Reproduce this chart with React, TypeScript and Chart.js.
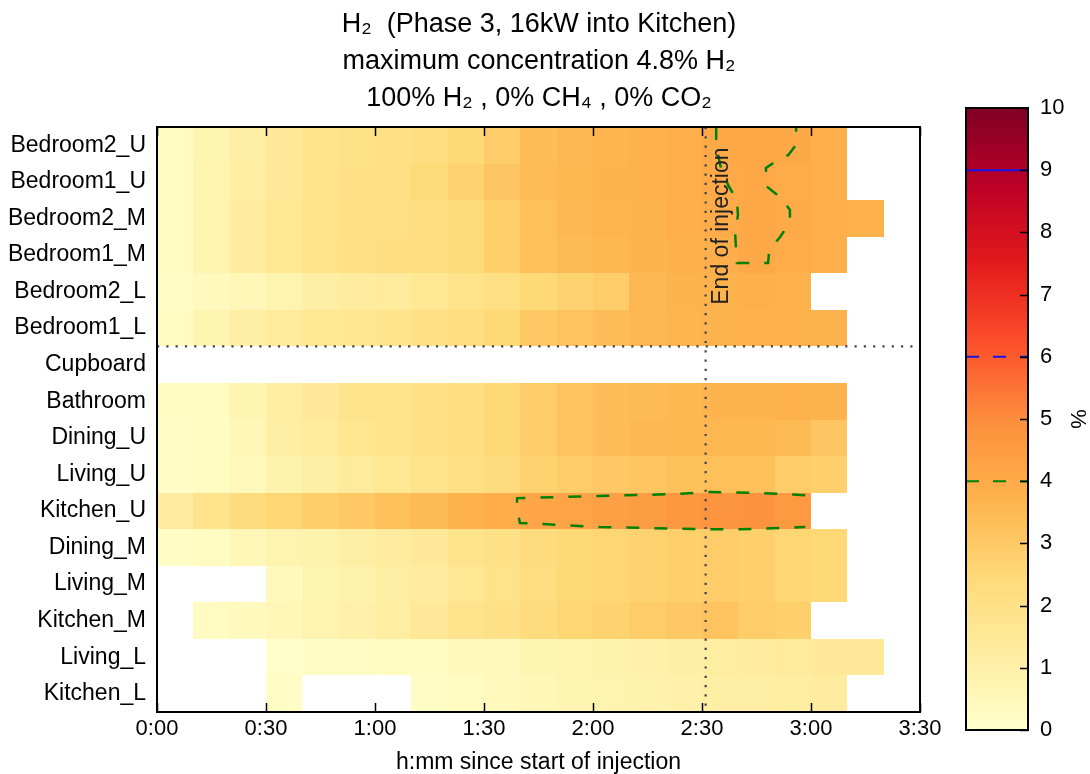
import React, { useEffect, useRef } from 'react';
import { Chart, registerables } from 'chart.js';

Chart.register(...registerables);

const SANS = "'Liberation Sans', Arial, 'DejaVu Sans', sans-serif";

// ---------- text ----------
const titleLines = [
  'H₂  (Phase 3, 16kW into Kitchen)',
  'maximum concentration 4.8% H₂',
  '100% H₂ , 0% CH₄ , 0% CO₂',
];
const xAxisTitle = 'h:mm since start of injection';
const colorbarTitle = '%';
const injectionLabel = 'End of injection';

// ---------- categories ----------
const rowLabels = [
  'Bedroom2_U', 'Bedroom1_U', 'Bedroom2_M', 'Bedroom1_M', 'Bedroom2_L', 'Bedroom1_L',
  'Cupboard', 'Bathroom', 'Dining_U', 'Living_U', 'Kitchen_U', 'Dining_M',
  'Living_M', 'Kitchen_M', 'Living_L', 'Kitchen_L',
];

// time bins (minutes since start of injection), each 10 minutes wide
const binStarts = [0, 10, 20, 30, 40, 50, 60, 70, 80, 90, 100, 110, 120, 130, 140, 150, 160, 170, 180, 190];
const binWidth = 10;

// ---------- concentration (% H2) per sensor, one value per time bin ----------
const bedroom2U = [0.3, 0.7, 1.1, 1.5, 1.8, 1.95, 2.05, 2.2, 2.5, 2.9, 3.4, 3.55, 3.65, 3.75, 3.85, 4.05, 4.1, 4.05, 3.85, null];
const bedroom1U = [0.3, 0.8, 1.2, 1.5, 1.8, 2.0, 2.1, 2.4, 2.7, 3.1, 3.45, 3.6, 3.7, 3.75, 3.85, 4.02, 4.08, 3.97, 3.85, null];
const bedroom2M = [0.3, 0.8, 1.3, 1.6, 1.9, 2.0, 2.1, 2.2, 2.4, 2.8, 3.3, 3.55, 3.65, 3.7, 3.85, 3.97, 4.1, 4.02, 3.9, 3.75];
const bedroom1M = [0.3, 0.8, 1.3, 1.6, 1.9, 2.05, 2.2, 2.2, 2.4, 2.8, 3.3, 3.5, 3.6, 3.7, 3.8, 3.9, 4.06, 3.95, 3.85, null];
const bedroom2L = [0.2, 0.4, 0.6, 0.8, 1.1, 1.3, 1.4, 1.6, 1.9, 2.1, 2.5, 2.7, 2.9, 3.55, 3.7, 3.75, 3.8, 3.75, null, null];
const bedroom1L = [0.3, 0.7, 1.1, 1.4, 1.6, 1.7, 1.8, 2.0, 2.2, 2.5, 3.0, 3.2, 3.4, 3.55, 3.65, 3.7, 3.75, 3.75, 3.7, null];
const cupboard = [null, null, null, null, null, null, null, null, null, null, null, null, null, null, null, null, null, null, null, null];
const bathroom = [0.3, 0.3, 0.7, 1.2, 1.5, 1.8, 1.9, 2.0, 2.2, 2.5, 2.9, 3.2, 3.4, 3.5, 3.6, 3.7, 3.7, 3.75, 3.7, null];
const diningU = [0.2, 0.3, 0.6, 1.1, 1.4, 1.7, 1.9, 2.0, 2.2, 2.5, 2.9, 3.2, 3.4, 3.55, 3.6, 3.6, 3.6, 3.5, 3.1, null];
const livingU = [0.2, 0.3, 0.5, 0.9, 1.1, 1.4, 1.6, 1.9, 2.1, 2.3, 2.7, 2.9, 3.05, 3.15, 3.25, 3.3, 3.3, 2.9, 2.8, null];
const kitchenU = [1.3, 1.8, 2.3, 2.6, 2.85, 3.0, 3.3, 3.5, 3.75, 3.92, 4.15, 4.25, 4.4, 4.45, 4.65, 4.75, 4.8, 4.6, null, null];
const diningM = [0.2, 0.3, 0.6, 0.8, 0.9, 1.1, 1.3, 1.5, 1.8, 2.0, 2.3, 2.5, 2.6, 2.7, 2.8, 2.9, 2.8, 2.6, 2.5, null];
const livingM = [null, null, null, 0.4, 0.7, 0.9, 1.1, 1.3, 1.6, 1.9, 2.2, 2.5, 2.6, 2.7, 2.8, 2.9, 2.8, 2.6, 2.5, null];
const kitchenM = [null, 0.3, 0.4, 0.6, 0.8, 1.0, 1.2, 1.5, 1.8, 2.0, 2.3, 2.6, 2.7, 2.9, 3.0, 3.2, 2.9, 2.8, null, null];
const livingL = [null, null, null, 0.1, 0.2, 0.2, 0.3, 0.3, 0.4, 0.5, 0.7, 0.8, 0.9, 1.0, 1.1, 1.2, 1.3, 1.4, 1.5, 1.5];
const kitchenL = [null, null, null, 0.2, null, null, null, 0.2, 0.3, 0.4, 0.6, 0.7, 0.8, 0.9, 1.0, 1.1, 1.1, 1.2, 1.3, null];

const heatRows = [
  bedroom2U, bedroom1U, bedroom2M, bedroom1M, bedroom2L, bedroom1L,
  cupboard, bathroom, diningU, livingU, kitchenU, diningM,
  livingM, kitchenM, livingL, kitchenL,
];

// ---------- 4 % contour lines (minutes, row position) ----------
const contourBedroomX = [153.9, 153.9, 155.0, 157.2, 159.6, 159.9, 159.1, 159.6, 168.2, 168.5, 171.5, 174.2, 174.2, 171.8, 167.6, 167.6, 170.9, 173.7, 175.9, 175.9];
const contourBedroomY = [-0.5, -0.01, 0.54, 1.09, 1.5, 1.91, 2.37, 3.22, 3.22, 2.86, 2.51, 2.1, 1.77, 1.44, 1.11, 0.62, 0.4, 0.27, -0.01, -0.5];
const contourKitchenX = [178.4, 166.0, 152.2, 143.1, 121.9, 110.9, 99.1, 99.1, 99.9, 121.9, 149.5, 160.5, 171.5, 178.4];
const contourKitchenY = [9.57, 9.51, 9.48, 9.54, 9.59, 9.62, 9.65, 9.98, 10.33, 10.44, 10.5, 10.5, 10.47, 10.44];

// ---------- reference lines ----------
const injectionEnd = 151; // minutes
const sectionBoundary = 5.5; // between Bedroom1_L and Cupboard

// ---------- axes ----------
const xMin = 0;
const xMax = 210;
const xTickValues = [0, 30, 60, 90, 120, 150, 180, 210];
const xTickLabels = ['0:00', '0:30', '1:00', '1:30', '2:00', '2:30', '3:00', '3:30'];

// ---------- colour scale ----------
const colorMin = 0;
const colorMax = 10;
const colorbarTicks = [0, 1, 2, 3, 4, 5, 6, 7, 8, 9, 10];
const ylOrRd = ['#ffffcc', '#ffeda0', '#fed976', '#feb24c', '#fd8d3c', '#fc4e2a', '#e31a1c', '#bd0026', '#800026'];
const thresholdLevels = [4, 6, 9];
const thresholdColors = ['rgb(0,128,0)', 'rgb(20,20,230)', 'rgb(20,20,230)'];
const thresholdDashed = [true, true, false];

const GREEN = 'rgb(0,128,0)';
const DOT = '#444444';

function hexToRgb(h: string) {
  const n = parseInt(h.slice(1), 16);
  return [(n >> 16) & 255, (n >> 8) & 255, n & 255];
}
const cmapRgb = ylOrRd.map(hexToRgb);

function colorFor(v: number) {
  const n = cmapRgb.length;
  let t = (v - colorMin) / (colorMax - colorMin);
  t = Math.max(0, Math.min(1, t)) * (n - 1);
  const i = Math.min(Math.floor(t), n - 2);
  const f = t - i;
  const a = cmapRgb[i];
  const b = cmapRgb[i + 1];
  const c = a.map((av, k) => Math.round(av + (b[k] - av) * f));
  return `rgb(${c[0]},${c[1]},${c[2]})`;
}

const heatmapPlugin = {
  id: 'heatmapCells',
  beforeDatasetsDraw(chart: any) {
    const { ctx, scales } = chart;
    const xs = scales.x;
    const ys = scales.y;
    ctx.save();
    heatRows.forEach((row, i) => {
      row.forEach((v, j) => {
        if (v === null || v === undefined) return;
        const xa = Math.round(xs.getPixelForValue(binStarts[j]));
        const xb = Math.round(xs.getPixelForValue(binStarts[j] + binWidth));
        const ya = Math.round(ys.getPixelForValue(i - 0.5));
        const yb = Math.round(ys.getPixelForValue(i + 0.5));
        ctx.fillStyle = colorFor(v as number);
        ctx.fillRect(Math.min(xa, xb), Math.min(ya, yb), Math.abs(xb - xa), Math.abs(yb - ya));
      });
    });
    ctx.restore();
  },
};

const mainFramePlugin = {
  id: 'mainFrame',
  afterDatasetsDraw(chart: any) {
    const { ctx, chartArea, scales } = chart;
    const { left, right, top, bottom } = chartArea;
    ctx.save();
    // end-of-injection label
    ctx.fillStyle = '#222';
    ctx.font = `23px ${SANS}`;
    ctx.textAlign = 'center';
    ctx.textBaseline = 'middle';
    ctx.translate(scales.x.getPixelForValue(injectionEnd) + 16, scales.y.getPixelForValue(2.21));
    ctx.rotate(-Math.PI / 2);
    ctx.fillText(injectionLabel, 0, 0);
    ctx.restore();

    ctx.save();
    ctx.strokeStyle = '#000';
    ctx.lineWidth = 1.5;
    ctx.beginPath();
    xTickValues.forEach((v) => {
      const px = Math.round(scales.x.getPixelForValue(v)) + 0.5;
      ctx.moveTo(px, bottom);
      ctx.lineTo(px, bottom - 9);
      ctx.moveTo(px, top);
      ctx.lineTo(px, top + 9);
    });
    ctx.stroke();
    ctx.lineWidth = 2;
    ctx.strokeRect(left, top, right - left, bottom - top);
    ctx.restore();
  },
};

const colorbarPlugin = {
  id: 'colorbarFill',
  beforeDatasetsDraw(chart: any) {
    const { ctx, chartArea, scales } = chart;
    const ys = scales.y;
    const y0 = ys.getPixelForValue(colorMin);
    const y1 = ys.getPixelForValue(colorMax);
    const g = ctx.createLinearGradient(0, y0, 0, y1);
    ylOrRd.forEach((c, i) => g.addColorStop(i / (ylOrRd.length - 1), c));
    ctx.save();
    ctx.fillStyle = g;
    ctx.fillRect(chartArea.left, chartArea.top, chartArea.right - chartArea.left, chartArea.bottom - chartArea.top);
    ctx.restore();
  },
  afterDatasetsDraw(chart: any) {
    const { ctx, chartArea, scales } = chart;
    const { left, right, top, bottom } = chartArea;
    ctx.save();
    ctx.strokeStyle = '#000';
    ctx.lineWidth = 1.5;
    ctx.beginPath();
    colorbarTicks.forEach((v) => {
      const py = Math.round(scales.y.getPixelForValue(v)) + 0.5;
      ctx.moveTo(right, py);
      ctx.lineTo(right - 8, py);
    });
    ctx.stroke();
    ctx.lineWidth = 2;
    ctx.strokeRect(left, top, right - left, bottom - top);
    ctx.restore();
  },
};

function dottedLine(label: string, data: { x: number; y: number }[]) {
  return {
    label,
    data,
    showLine: true,
    pointRadius: 0,
    borderColor: DOT,
    borderWidth: 2.2,
    borderDash: [2.2, 7.1],
    fill: false,
  };
}

function contourLine(label: string, xs: number[], ys: number[]) {
  return {
    label,
    data: xs.map((x, i) => ({ x, y: ys[i] })),
    showLine: true,
    pointRadius: 0,
    borderColor: GREEN,
    borderWidth: 2.5,
    borderDash: [13, 15],
    fill: false,
  };
}

function MainChart() {
  const ref = useRef<HTMLCanvasElement>(null);
  useEffect(() => {
    const chart = new Chart(ref.current as HTMLCanvasElement, {
      type: 'scatter',
      data: {
        datasets: [
          contourLine('4% contour (bedrooms)', contourBedroomX, contourBedroomY),
          contourLine('4% contour (kitchen)', contourKitchenX, contourKitchenY),
          dottedLine('End of injection', [{ x: injectionEnd, y: -0.5 }, { x: injectionEnd, y: 15.5 }]),
          dottedLine('Section boundary', [{ x: xMin, y: sectionBoundary }, { x: xMax, y: sectionBoundary }]),
        ],
      },
      options: {
        responsive: false,
        animation: false,
        events: [],
        layout: { padding: 0 },
        plugins: {
          legend: { display: false },
          tooltip: { enabled: false },
          title: {
            display: true,
            text: titleLines,
            color: '#000',
            font: { family: SANS, size: 27, weight: 'normal', lineHeight: 37 / 27 },
            padding: { top: 6, bottom: 10 },
          },
        },
        scales: {
          x: {
            type: 'linear',
            min: xMin,
            max: xMax,
            afterBuildTicks: (s: any) => {
              s.ticks = xTickValues.map((v) => ({ value: v }));
            },
            afterFit: (s: any) => {
              s.height = 62;
            },
            ticks: {
              callback: (v: any) => xTickLabels[xTickValues.indexOf(Number(v))],
              color: '#000',
              font: { family: SANS, size: 22 },
              padding: 4,
              maxRotation: 0,
              autoSkip: false,
            },
            grid: { display: false, drawTicks: false },
            border: { display: false },
            title: {
              display: true,
              text: xAxisTitle,
              color: '#000',
              font: { family: SANS, size: 23 },
              padding: { top: 0, bottom: -2 },
            },
          },
          y: {
            type: 'linear',
            min: -0.5,
            max: 15.5,
            reverse: true,
            afterBuildTicks: (s: any) => {
              s.ticks = rowLabels.map((_, i) => ({ value: i }));
            },
            afterFit: (s: any) => {
              s.width = 157;
            },
            ticks: {
              callback: (v: any) => rowLabels[Number(v)] ?? '',
              color: '#000',
              font: { family: SANS, size: 23 },
              padding: 11,
              autoSkip: false,
            },
            grid: { display: false, drawTicks: false },
            border: { display: false },
          },
          // empty right-hand axis that reserves the space occupied by the colour bar
          ySpace: {
            type: 'linear',
            position: 'right',
            min: 0,
            max: 1,
            afterFit: (s: any) => {
              s.width = 158;
            },
            ticks: { display: false },
            grid: { display: false, drawTicks: false },
            border: { display: false },
          },
        },
      } as any,
      plugins: [heatmapPlugin, mainFramePlugin],
    });
    return () => chart.destroy();
  }, []);
  return (
    <canvas
      ref={ref}
      width={1078}
      height={774}
      style={{ position: 'absolute', left: 0, top: 0, width: 1078, height: 774 }}
    />
  );
}

function ColorbarChart() {
  const ref = useRef<HTMLCanvasElement>(null);
  useEffect(() => {
    const chart = new Chart(ref.current as HTMLCanvasElement, {
      type: 'scatter',
      data: {
        datasets: thresholdLevels.map((lvl, i) => ({
          label: `${lvl}%`,
          data: [{ x: 0, y: lvl }, { x: 1, y: lvl }],
          showLine: true,
          pointRadius: 0,
          borderColor: thresholdColors[i],
          borderWidth: 2,
          borderDash: thresholdDashed[i] ? [13, 14] : [],
          fill: false,
        })),
      },
      options: {
        responsive: false,
        animation: false,
        events: [],
        layout: { padding: { left: 26, right: 0, top: 108, bottom: 44 } },
        plugins: { legend: { display: false }, tooltip: { enabled: false } },
        scales: {
          x: { type: 'linear', min: 0, max: 1, display: false },
          y: {
            type: 'linear',
            position: 'right',
            min: colorMin,
            max: colorMax,
            afterBuildTicks: (s: any) => {
              s.ticks = colorbarTicks.map((v) => ({ value: v }));
            },
            afterFit: (s: any) => {
              s.width = 62;
            },
            ticks: {
              color: '#000',
              font: { family: SANS, size: 22 },
              padding: 12,
              autoSkip: false,
            },
            grid: { display: false, drawTicks: false },
            border: { display: false },
            title: {
              display: true,
              text: colorbarTitle,
              color: '#000',
              font: { family: SANS, size: 22 },
              padding: 0,
            },
          },
        },
      } as any,
      plugins: [colorbarPlugin],
    });
    return () => chart.destroy();
  }, []);
  return (
    <canvas
      ref={ref}
      width={150}
      height={774}
      style={{ position: 'absolute', left: 940, top: 0, width: 150, height: 774 }}
    />
  );
}

export default function App() {
  return (
    <div style={{ position: 'fixed', left: 0, top: 0, width: 1090, height: 774, background: '#fff', overflow: 'hidden' }}>
      <MainChart />
      <ColorbarChart />
    </div>
  );
}
